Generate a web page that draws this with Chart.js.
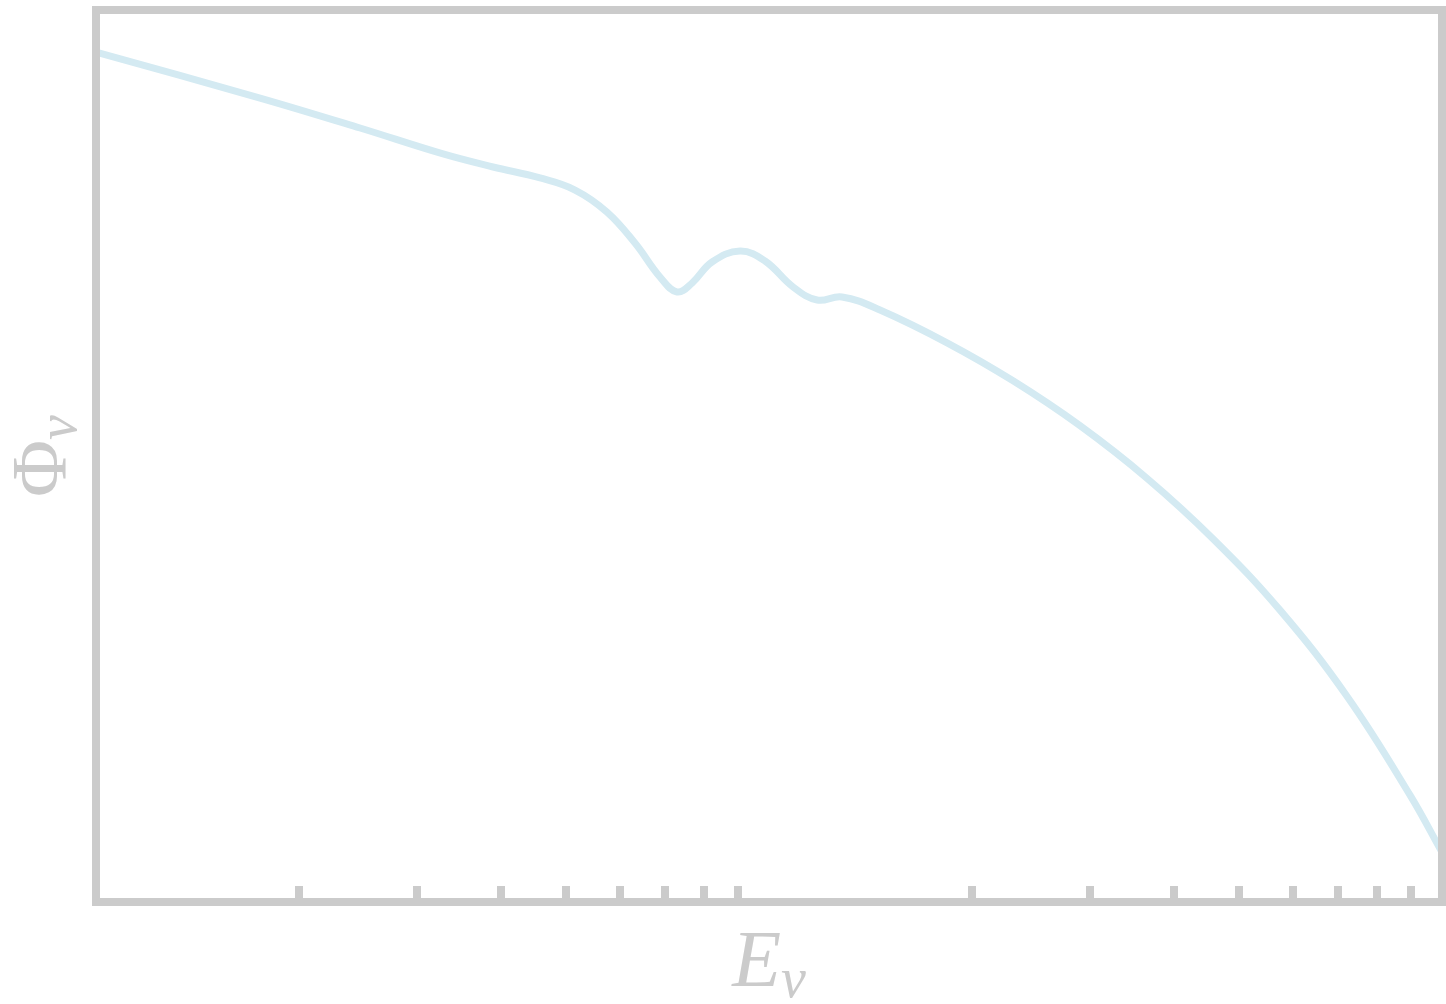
<!DOCTYPE html>
<html>
<head>
<meta charset="utf-8">
<script src="https://cdn.jsdelivr.net/npm/chart.js@4/dist/chart.umd.min.js"></script>
<style>
	html, body { margin: 0; padding: 0; background: #fff; }
	canvas { display: block; }
</style>
</head>
<body>
<canvas id="grafico" width="1446" height="1004"></canvas>
<script>
// energia (log) y flujo (unidades arbitrarias)
var energia = [1.000, 1.753, 2.468, 3.279, 3.890, 4.568, 5.150, 5.745, 6.322, 6.887,
	7.300, 7.685, 8.229, 9.056, 9.864, 10.86, 11.79, 12.84, 14.62,
	18.39, 23.05, 28.98, 36.45, 45.67, 57.45, 72.24, 89.64, 100.0];
var flujo = [95.29, 90.13, 86.77, 83.86, 82.40, 81.17, 79.82, 77.35, 73.88, 70.07,
	68.39, 69.39, 71.75, 72.98, 71.86, 68.95, 67.49, 67.83, 66.37,
	62.69, 58.43, 53.40, 47.50, 40.73, 32.72, 23.07, 11.98, 5.58];
var marcasX = [2, 3, 4, 5, 6, 7, 8, 9, 20, 30, 40, 50, 60, 70, 80, 90];

var gris = '#cbcbcb';

var marco = {
	id: 'marco',
	afterDraw: function (chart) {
		var ctx = chart.ctx;
		var area = chart.chartArea;
		var x = chart.scales.x;
		ctx.save();
		// marcas del eje x, hacia dentro
		ctx.fillStyle = gris;
		marcasX.forEach(function (m) {
			var px = x.getPixelForValue(m);
			ctx.fillRect(Math.round(px) - 4, area.bottom - 16, 8, 16);
		});
		// marco
		ctx.strokeStyle = gris;
		ctx.lineWidth = 8;
		ctx.strokeRect(area.left, area.top, area.right - area.left, area.bottom - area.top);

		// E_nu
		ctx.fillStyle = gris;
		ctx.textBaseline = 'alphabetic';
		ctx.textAlign = 'left';
		var fGrande = 'italic 80px "Liberation Serif", "DejaVu Serif", serif';
		var fSub = 'italic 56px "Liberation Serif", "DejaVu Serif", serif';
		ctx.font = fGrande;
		var wE = ctx.measureText('E').width;
		ctx.font = fSub;
		var wNu = ctx.measureText('\u03BD').width;
		var cx = (area.left + area.right) / 2;
		var x0 = cx - (wE + wNu) / 2;
		ctx.font = fGrande;
		ctx.fillText('E', x0, 986);
		ctx.font = fSub;
		ctx.fillText('\u03BD', x0 + wE, 997);

		// Phi_nu (girado)
		ctx.translate(65, (area.top + area.bottom) / 2);
		ctx.rotate(-Math.PI / 2);
		var fPhi = '78px "Liberation Serif", "DejaVu Serif", serif';
		ctx.font = fPhi;
		var wPhi = ctx.measureText('\u03A6').width;
		ctx.font = fSub;
		var wNu2 = ctx.measureText('\u03BD').width;
		var y0 = -(wPhi + wNu2) / 2;
		ctx.font = fPhi;
		ctx.fillText('\u03A6', y0, 0);
		ctx.font = fSub;
		ctx.fillText('\u03BD', y0 + wPhi, 11);
		ctx.restore();
	}
};

var contexto = document.getElementById('grafico').getContext('2d');

var data = {
	datasets: [{
		label: 'flujo',
		data: energia.map(function (e, i) { return { x: e, y: flujo[i] }; }),
		borderColor: '#d4eaf2',
		borderWidth: 7,
		pointRadius: 0,
		tension: 0.4,
		fill: false
	}]
};

var grafico = new Chart(contexto, {
	type: 'line',
	data: data,
	options: {
		responsive: false,
		animation: false,
		devicePixelRatio: 1,
		layout: { padding: { left: 96, top: 10, right: 4, bottom: 102 } },
		plugins: { legend: { display: false }, tooltip: { enabled: false } },
		scales: {
			x: { type: 'logarithmic', min: 1, max: 100, display: false },
			y: { type: 'linear', min: 0, max: 100, display: false }
		}
	},
	plugins: [marco]
});
</script>
</body>
</html>
